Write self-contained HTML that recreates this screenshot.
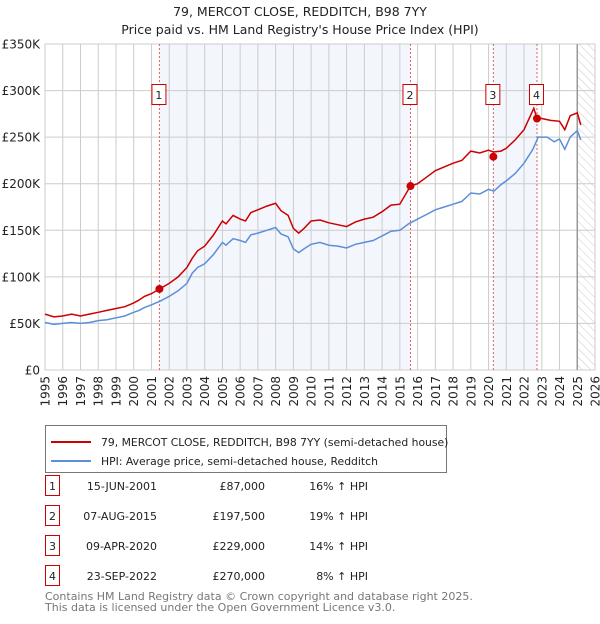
<!DOCTYPE html>
<html><head><meta charset="utf-8"><style>
body{margin:0;background:#fff;font-family:"DejaVu Sans","Liberation Sans",sans-serif;}
</style></head><body>
<svg width="600" height="620" xmlns="http://www.w3.org/2000/svg" font-family="DejaVu Sans, Liberation Sans, sans-serif">
<defs><pattern id="hatch" width="6" height="6" patternUnits="userSpaceOnUse" patternTransform="rotate(-45)"><line x1="0" y1="0" x2="0" y2="6" stroke="#ccc" stroke-width="1"/></pattern></defs>
<text x="300" y="16" text-anchor="middle" font-size="12.5" fill="#222">79, MERCOT CLOSE, REDDITCH, B98 7YY</text>
<text x="300" y="34" text-anchor="middle" font-size="12.5" fill="#222">Price paid vs. HM Land Registry's House Price Index (HPI)</text>
<g id="plot"></g>
<g>
<rect x="45.5" y="425.5" width="401" height="47" fill="#fff" stroke="#777"/>
<line x1="51" y1="442" x2="91" y2="442" stroke="#cc0000" stroke-width="2"/>
<text x="101" y="446" font-size="10.8" fill="#222">79, MERCOT CLOSE, REDDITCH, B98 7YY (semi-detached house)</text>
<line x1="51" y1="461" x2="91" y2="461" stroke="#5b8fd6" stroke-width="2"/>
<text x="101" y="465" font-size="10.8" fill="#222">HPI: Average price, semi-detached house, Redditch</text>
</g>
<g id="table"></g>
<text x="45" y="600" font-size="11" fill="#777">Contains HM Land Registry data © Crown copyright and database right 2025.</text>
<text x="45" y="611" font-size="11" fill="#777">This data is licensed under the Open Government Licence v3.0.</text>
</svg>
<script>
const yTicks=[0,50000,100000,150000,200000,250000,300000,350000];
const yTickLabels=["£0","£50K","£100K","£150K","£200K","£250K","£300K","£350K"];
const years=[1995,1996,1997,1998,1999,2000,2001,2002,2003,2004,2005,2006,2007,2008,2009,2010,2011,2012,2013,2014,2015,2016,2017,2018,2019,2020,2021,2022,2023,2024,2025,2026];
const hpiT=[1995,1995.5,1996,1996.5,1997,1997.5,1998,1998.5,1999,1999.5,2000,2000.3,2000.6,2001,2001.5,2002,2002.5,2003,2003.3,2003.6,2004,2004.5,2005,2005.2,2005.6,2006,2006.3,2006.6,2007,2007.5,2008,2008.3,2008.7,2009,2009.3,2009.6,2010,2010.5,2011,2011.5,2012,2012.5,2013,2013.5,2014,2014.5,2015,2015.5,2016,2016.5,2017,2017.5,2018,2018.5,2019,2019.5,2020,2020.3,2020.7,2021,2021.5,2022,2022.5,2022.8,2023.3,2023.7,2024,2024.3,2024.6,2025,2025.2];
const hpiV=[51,49,50,51,50,51,53,54,56,58,62,64,67,70,74,79,85,93,104,110,114,124,137,134,141,139,137,145,147,150,153,146,143,130,126,130,135,137,134,133,131,135,137,139,144,149,150,157,162,167,172,175,178,181,190,189,194,192,199,203,211,222,237,250,250,245,248,237,250,257,247];
const propT=[1995,1995.5,1996,1996.5,1997,1997.5,1998,1998.5,1999,1999.5,2000,2000.3,2000.6,2001,2001.45,2002,2002.5,2003,2003.3,2003.6,2004,2004.5,2005,2005.2,2005.6,2006,2006.3,2006.6,2007,2007.5,2008,2008.3,2008.7,2009,2009.3,2009.6,2010,2010.5,2011,2011.5,2012,2012.5,2013,2013.5,2014,2014.5,2015,2015.6,2016,2016.5,2017,2017.5,2018,2018.5,2019,2019.5,2020,2020.27,2020.7,2021,2021.5,2022,2022.55,2022.73,2023,2023.5,2024,2024.3,2024.6,2025,2025.2];
const propV=[60,57,58,60,58,60,62,64,66,68,72,75,79,82,87,93,100,110,120,128,133,145,160,157,166,162,160,169,172,176,179,171,166,152,147,152,160,161,158,156,154,159,162,164,170,177,178,197.5,200,207,214,218,222,225,235,233,236,234,235,238,247,258,281,270,270,268,267,258,273,276,263];
const saleLabels=["1","2","3","4"];
const saleT=[2001.45,2015.6,2020.27,2022.73];
const saleV=[87000,197500,229000,270000];
const saleDates=["15-JUN-2001","07-AUG-2015","09-APR-2020","23-SEP-2022"];
const salePrices=["£87,000","£197,500","£229,000","£270,000"];
const saleHpi=["16% ↑ HPI","19% ↑ HPI","14% ↑ HPI","8% ↑ HPI"];
const x0=45,x1=595,y0=370,y1=44;
const X=t=>x0+(t-1995)/(2026-1995)*(x1-x0);
const Y=v=>y0-v/350000*(y0-y1);
const NS="http://www.w3.org/2000/svg";
function mk(tag,attrs,parent,text){const e=document.createElementNS(NS,tag);for(const k in attrs)e.setAttribute(k,attrs[k]);if(text!==undefined)e.textContent=text;parent.appendChild(e);return e;}
const g=document.getElementById('plot');
let s=mk('rect',{x:X(saleT[0]),y:y1,width:X(saleT[1])-X(saleT[0]),height:y0-y1,fill:'#f3f6fd'},g);


s=mk('rect',{x:X(saleT[2]),y:y1,width:X(saleT[3])-X(saleT[2]),height:y0-y1,fill:'#f3f6fd'},g);


s=mk('rect',{x:X(2025),y:y1,width:x1-X(2025),height:y0-y1,fill:'url(#hatch)'},g);


years.forEach(yr=>{const l=mk('line',{x1:X(yr),x2:X(yr),y1:y1,y2:y0,stroke:'#ccc','stroke-width':1},g);


const t=mk('text',{x:0,y:0,transform:`translate(${X(yr)+4.5},${y0+6}) rotate(-90)`,'text-anchor':'end','font-size':'12',fill:'#222'},g,String(yr));

});
yTicks.forEach((v,i)=>{const l=mk('line',{x1:x0,x2:x1,y1:Y(v),y2:Y(v),stroke:'#ccc','stroke-width':1},g);


const t=mk('text',{x:x0-5,y:Y(v)+4.5,'text-anchor':'end','font-size':'12',fill:'#222'},g,yTickLabels[i]);

});
let b=mk('line',{x1:X(2025),x2:X(2025),y1:y1,y2:y0,stroke:'#999','stroke-width':1.5},g);


saleT.forEach((t,i)=>{const l=mk('line',{x1:X(t),x2:X(t),y1:y1,y2:y0,stroke:'#e06060','stroke-width':1,'stroke-dasharray':'2,2'},g);


const r=mk('rect',{x:X(t)-7.5,y:84.5,width:14,height:20,fill:'#fff',stroke:'#cc0000'},g);


const tx=mk('text',{x:X(t)-0.5,y:99,'text-anchor':'middle','font-size':'11',fill:'#222'},g,saleLabels[i]);

});
const p1=mk('path',{d:hpiT.map((t,i)=>(i?'L':'M')+X(t).toFixed(1)+','+Y(hpiV[i]*1000).toFixed(1)).join(''),fill:'none',stroke:'#5b8fd6','stroke-width':1.5},g);


const p2=mk('path',{d:propT.map((t,i)=>(i?'L':'M')+X(t).toFixed(1)+','+Y(propV[i]*1000).toFixed(1)).join(''),fill:'none',stroke:'#cc0000','stroke-width':1.5},g);


saleT.forEach((t,i)=>{const c=mk('circle',{cx:X(t),cy:Y(saleV[i]),r:4,fill:'#cc0000'},g);

});
const tb=document.getElementById('table');
saleLabels.forEach((lb,i)=>{const yy=475+i*30;
const r=mk('rect',{x:45.5,y:yy+0.5,width:14,height:20,fill:'#fff',stroke:'#cc0000'},tb);


const a=mk('text',{x:52.5,y:yy+15,'text-anchor':'middle','font-size':'11',fill:'#222'},tb,lb);


const d=mk('text',{x:157,y:yy+15,'text-anchor':'end','font-size':'11',fill:'#222'},tb,saleDates[i]);


const p=mk('text',{x:265,y:yy+15,'text-anchor':'end','font-size':'11',fill:'#222'},tb,salePrices[i]);


const h=mk('text',{x:368,y:yy+15,'text-anchor':'end','font-size':'11',fill:'#222'},tb,saleHpi[i]);

});
</script>
</body></html>
